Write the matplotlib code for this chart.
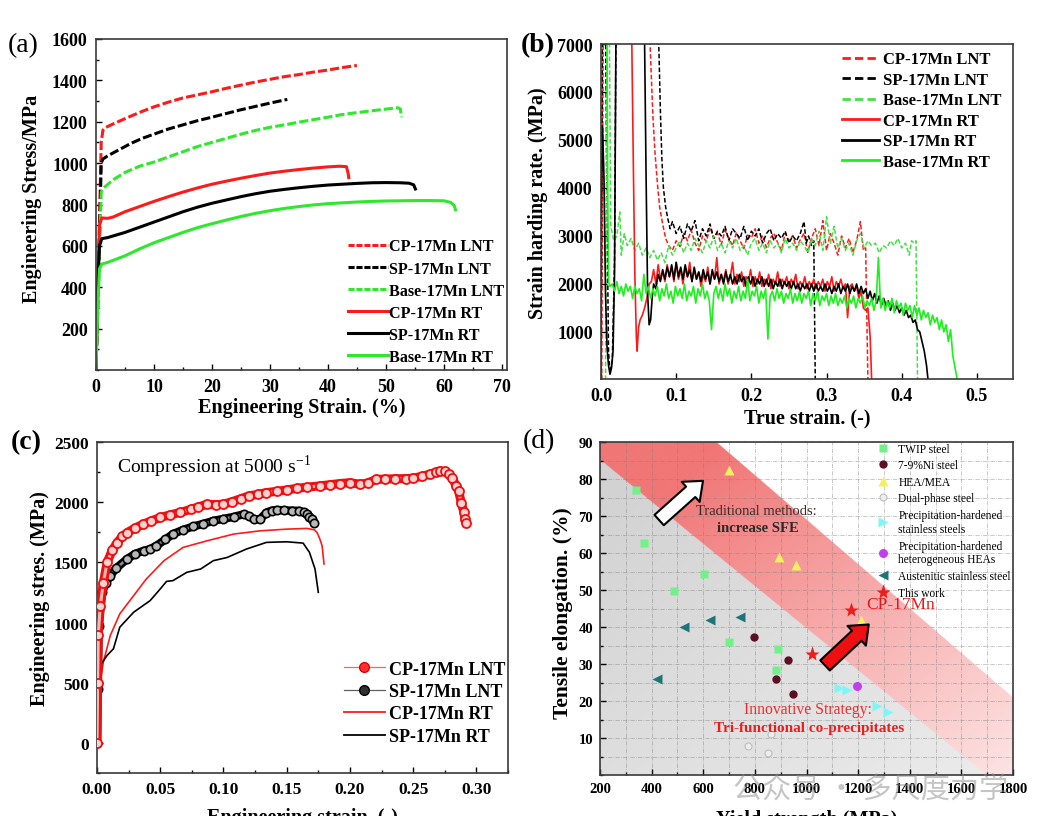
import numpy as np
import matplotlib.pyplot as plt
from matplotlib.lines import Line2D
from matplotlib.patches import FancyArrowPatch, Rectangle
from matplotlib.ticker import MultipleLocator

plt.rcParams['font.family'] = ['Liberation Serif', 'DejaVu Serif']
plt.rcParams['mathtext.fontset'] = 'custom'
plt.rcParams['mathtext.rm'] = 'Liberation Serif'

RED = '#ff1a1a'
GREEN = '#2ee82e'
BLACK = '#000000'

# ---------------- (a) engineering stress-strain (tension) ----------------
cp_lnt_a_x = [0, 0.5, 0.9, 1.2, 1.5, 3, 5, 7.5, 10, 12.5, 15, 17.5, 20, 22.5, 25, 27.5, 30, 32.5, 35, 37.5, 40, 42.5, 45]
cp_lnt_a_y = [0, 600, 1100, 1160, 1170, 1190, 1215, 1245, 1272, 1295, 1315, 1330, 1345, 1362, 1377, 1392, 1405, 1418, 1428, 1440, 1450, 1462, 1472]
sp_lnt_a_x = [0, 0.5, 0.9, 1.2, 2, 4, 6, 8, 10, 12.5, 15, 17.5, 20, 22.5, 25, 27.5, 30, 33]
sp_lnt_a_y = [0, 500, 1000, 1020, 1035, 1065, 1095, 1120, 1140, 1165, 1185, 1205, 1222, 1240, 1258, 1274, 1290, 1308]
base_lnt_a_x = [0, 0.5, 0.9, 1.3, 3, 5, 7.5, 10, 12.5, 15, 17.5, 20, 22.5, 25, 27.5, 30, 32.5, 35, 37.5, 40,
                42.5, 45, 47.5, 50, 52, 52.5, 52.7]
base_lnt_a_y = [0, 500, 860, 880, 920, 955, 985, 1005, 1030, 1055, 1080, 1100, 1120, 1140, 1158, 1173, 1185, 1198, 1210, 1222,
                1235, 1244, 1253, 1261, 1268, 1262, 1222]
cp_rt_a_x = [0, 0.3, 0.6, 1, 2, 3, 5, 7.5, 10, 12.5, 15, 17.5, 20, 22.5, 25, 27.5, 30, 32.5, 35, 37.5, 40, 42, 43.2, 43.5, 43.6]
cp_rt_a_y = [0, 400, 700, 735, 733, 740, 765, 790, 815, 838, 860, 880, 898, 913, 927, 940, 952, 961, 969, 976, 982, 985, 983, 950, 930]
sp_rt_a_x = [0, 0.3, 0.6, 1, 2, 5, 7.5, 10, 12.5, 15, 17.5, 20, 22.5, 25, 27.5, 30, 32.5, 35, 37.5, 40, 42.5, 45, 47.5, 50,
             52.5, 54, 54.8, 55.1]
sp_rt_a_y = [0, 400, 600, 635, 640, 665, 690, 715, 740, 765, 787, 806, 822, 838, 852, 864, 873, 881, 888, 894, 898, 902, 905, 906,
             905, 903, 895, 875]
base_rt_a_x = [0, 0.3, 0.6, 1, 2, 5, 7.5, 10, 12.5, 15, 17.5, 20, 22.5, 25, 27.5, 30, 32.5, 35, 37.5, 40, 42.5, 45, 47.5, 50,
               52.5, 55, 57.5, 60, 61.2, 61.8, 62]
base_rt_a_y = [0, 300, 490, 512, 520, 552, 585, 615, 640, 665, 688, 707, 725, 742, 757, 770, 781, 790, 798, 804, 808, 812, 815, 817,
               818, 819, 819, 818, 810, 795, 775]

# ---------------- (b) strain hardening rate ----------------
cp_lnt_b = [(0.001, 0), (0.003, 7500), (0.064, 7500), (0.066, 6700), (0.069, 5500), (0.072, 4700), (0.075, 4100),
            (0.078, 3600), (0.082, 3250), (0.086, 2950), (0.090, 2800), (0.095, 2700), (0.100, 2900), (0.105, 2780),
            (0.110, 3050), (0.115, 2900), (0.120, 3120), (0.125, 2850), (0.130, 2700), (0.135, 3000), (0.140, 2880),
            (0.145, 3180), (0.150, 2950), (0.155, 3060), (0.160, 2820), (0.165, 3120), (0.170, 2950), (0.175, 2800),
            (0.180, 3060), (0.185, 2900), (0.190, 2740), (0.195, 3020), (0.200, 2960), (0.205, 3150), (0.210, 2850),
            (0.215, 3010), (0.220, 2760), (0.225, 2950), (0.230, 3060), (0.235, 2860), (0.240, 2700), (0.245, 3060),
            (0.250, 2900), (0.255, 3010), (0.260, 2750), (0.265, 2920), (0.270, 3060), (0.275, 2660), (0.280, 2950),
            (0.285, 3150), (0.290, 2800), (0.295, 3320), (0.300, 2700), (0.305, 3050), (0.310, 2850), (0.315, 2600),
            (0.320, 3000), (0.325, 2750), (0.330, 2950), (0.335, 2650), (0.340, 2900), (0.345, 3300), (0.349, 2700),
            (0.352, 2750), (0.355, 0)]
sp_lnt_b = [(0.000, 200), (0.002, 7500), (0.006, 7500), (0.008, 3500), (0.010, 600), (0.012, 150), (0.015, 400),
            (0.018, 2500), (0.020, 7500), (0.075, 7500), (0.077, 6900), (0.079, 5600), (0.081, 4600), (0.083, 4000),
            (0.086, 3600), (0.089, 3350), (0.092, 3150), (0.095, 3300), (0.100, 3050), (0.105, 3200), (0.110, 2950),
            (0.115, 3250), (0.120, 3100), (0.125, 3320), (0.130, 2900), (0.135, 3150), (0.140, 3000), (0.145, 3250),
            (0.150, 2950), (0.155, 3100), (0.160, 3000), (0.165, 3200), (0.170, 2900), (0.175, 3150), (0.180, 3050),
            (0.185, 2950), (0.190, 3200), (0.195, 2900), (0.200, 3100), (0.205, 3000), (0.210, 3150), (0.215, 2850),
            (0.220, 3050), (0.225, 3150), (0.230, 2900), (0.235, 3050), (0.240, 2950), (0.245, 3100), (0.250, 2850),
            (0.255, 3000), (0.260, 2900), (0.265, 3050), (0.270, 3300), (0.273, 2850), (0.276, 3000), (0.280, 2800),
            (0.283, 2900), (0.285, 0)]
base_lnt_b = [(0.006, 0), (0.008, 7500), (0.011, 7500), (0.013, 3200), (0.017, 2900), (0.021, 3000), (0.025, 3500),
              (0.027, 2600), (0.031, 3050), (0.035, 2800), (0.040, 2950), (0.045, 2700), (0.050, 2850), (0.055, 2600),
              (0.060, 2750), (0.065, 2550), (0.070, 2700), (0.075, 2500), (0.080, 2650), (0.085, 2450), (0.090, 2800),
              (0.095, 2600), (0.100, 2750), (0.105, 2900), (0.110, 2650), (0.115, 2850), (0.120, 2700), (0.125, 2950),
              (0.130, 2800), (0.135, 2650), (0.140, 2900), (0.145, 2750), (0.150, 3000), (0.155, 2700), (0.160, 2850),
              (0.165, 2650), (0.170, 2900), (0.175, 2750), (0.180, 2950), (0.185, 2700), (0.190, 2800), (0.195, 2600),
              (0.200, 2850), (0.205, 2950), (0.210, 2700), (0.215, 2850), (0.220, 2650), (0.225, 2900), (0.230, 2750),
              (0.235, 2850), (0.240, 2650), (0.245, 2950), (0.250, 2750), (0.255, 2850), (0.260, 2700), (0.265, 2900),
              (0.270, 2800), (0.275, 2650), (0.280, 2950), (0.285, 2800), (0.290, 3100), (0.295, 2700), (0.300, 3400),
              (0.305, 2850), (0.310, 3200), (0.315, 2750), (0.320, 2950), (0.325, 2700), (0.330, 2850), (0.335, 2600),
              (0.340, 2900), (0.345, 3050), (0.350, 2750), (0.355, 2900), (0.360, 2800), (0.365, 2850), (0.370, 2650),
              (0.375, 2800), (0.380, 2750), (0.385, 2900), (0.390, 2800), (0.395, 2950), (0.400, 2750), (0.405, 2850),
              (0.410, 2600), (0.413, 2900), (0.417, 2850), (0.419, 2900), (0.421, 0)]
cp_rt_b = [(0.038, 7500), (0.041, 7000), (0.043, 4500), (0.045, 2200), (0.047, 900), (0.048, 600), (0.050, 1100),
           (0.052, 1250), (0.055, 1350), (0.058, 1500), (0.061, 1700), (0.064, 2000), (0.067, 2050), (0.070, 2300),
           (0.073, 2000), (0.076, 2400), (0.079, 2100), (0.082, 2250), (0.085, 2050), (0.088, 2400), (0.091, 2150),
           (0.094, 2350), (0.097, 2050), (0.100, 2450), (0.103, 2100), (0.106, 2300), (0.109, 2000), (0.112, 2350),
           (0.115, 2150), (0.118, 2450), (0.121, 2050), (0.124, 2300), (0.127, 2100), (0.130, 2250), (0.133, 1950),
           (0.136, 2200), (0.139, 2050), (0.142, 2350), (0.145, 2000), (0.148, 2250), (0.151, 2100), (0.154, 2550),
           (0.157, 2000), (0.160, 2200), (0.163, 2050), (0.166, 2300), (0.169, 2000), (0.172, 2150), (0.175, 2450),
           (0.178, 2000), (0.181, 2200), (0.184, 2050), (0.187, 2250), (0.190, 1950), (0.193, 2150), (0.196, 2050),
           (0.199, 2300), (0.202, 1950), (0.205, 2150), (0.208, 2000), (0.211, 2250), (0.214, 1950), (0.217, 2100),
           (0.220, 2000), (0.223, 2200), (0.226, 1900), (0.229, 2100), (0.232, 2000), (0.235, 2250), (0.238, 1950),
           (0.241, 2100), (0.244, 2000), (0.247, 2150), (0.250, 1900), (0.253, 2100), (0.256, 2000), (0.259, 2200),
           (0.262, 1900), (0.265, 2050), (0.268, 1950), (0.271, 2150), (0.274, 1900), (0.277, 2050), (0.280, 1950),
           (0.283, 2100), (0.286, 1900), (0.289, 2050), (0.292, 1950), (0.295, 2100), (0.298, 1850), (0.301, 2050),
           (0.304, 1950), (0.307, 2150), (0.310, 1850), (0.313, 2050), (0.316, 1950), (0.319, 2100), (0.322, 1900),
           (0.325, 2000), (0.328, 1300), (0.331, 1950), (0.334, 2000), (0.337, 1850), (0.340, 1950), (0.343, 1700),
           (0.346, 1850), (0.349, 1500), (0.352, 1450), (0.355, 1500), (0.358, 900), (0.360, 0)]
sp_rt_b = [(0.000, 3500), (0.002, 5300), (0.004, 4200), (0.006, 1800), (0.008, 700), (0.010, 300), (0.012, 120),
           (0.014, 250), (0.016, 600), (0.018, 2200), (0.020, 7500), (0.056, 7500), (0.058, 7000), (0.060, 4200),
           (0.062, 1800), (0.064, 1150), (0.066, 1250), (0.068, 1700), (0.070, 2000), (0.073, 1900), (0.076, 2200),
           (0.079, 2050), (0.082, 2300), (0.085, 2100), (0.088, 2350), (0.091, 2150), (0.094, 2400), (0.097, 2100),
           (0.100, 2450), (0.103, 2150), (0.106, 2350), (0.109, 2100), (0.112, 2400), (0.115, 2150), (0.118, 2300),
           (0.121, 2050), (0.124, 2350), (0.127, 2100), (0.130, 2250), (0.133, 2050), (0.136, 2300), (0.139, 2100),
           (0.142, 2250), (0.145, 2000), (0.148, 2300), (0.151, 2100), (0.154, 2250), (0.157, 2050), (0.160, 2200),
           (0.163, 2000), (0.166, 2250), (0.169, 2050), (0.172, 2200), (0.175, 2000), (0.178, 2150), (0.181, 2000),
           (0.184, 2200), (0.187, 2050), (0.190, 2150), (0.193, 1950), (0.196, 2150), (0.199, 2000), (0.202, 2150),
           (0.205, 1950), (0.208, 2100), (0.211, 2000), (0.214, 2150), (0.217, 1950), (0.220, 2100), (0.223, 1950),
           (0.226, 2100), (0.229, 1900), (0.232, 2050), (0.235, 1950), (0.238, 2100), (0.241, 1900), (0.244, 2050),
           (0.247, 1950), (0.250, 2050), (0.253, 1900), (0.256, 2050), (0.259, 1900), (0.262, 2000), (0.265, 1850),
           (0.268, 2000), (0.271, 1900), (0.274, 2000), (0.277, 1850), (0.280, 2000), (0.283, 1850), (0.286, 2000),
           (0.289, 1850), (0.292, 1950), (0.295, 1850), (0.298, 2000), (0.301, 1850), (0.304, 1950), (0.307, 1800),
           (0.310, 1950), (0.313, 1850), (0.316, 2000), (0.319, 1800), (0.322, 1950), (0.325, 1850), (0.328, 2000),
           (0.331, 1800), (0.334, 1950), (0.337, 1850), (0.340, 2000), (0.343, 1800), (0.346, 1950), (0.349, 1800),
           (0.352, 1900), (0.355, 1700), (0.358, 1850), (0.361, 1650), (0.364, 1800), (0.367, 1600), (0.370, 1750),
           (0.373, 1550), (0.376, 1700), (0.379, 1550), (0.382, 1650), (0.385, 1450), (0.388, 1600), (0.391, 1450),
           (0.394, 1550), (0.397, 1400), (0.400, 1500), (0.403, 1350), (0.406, 1450), (0.409, 1300), (0.412, 1350),
           (0.415, 1200), (0.418, 1250), (0.421, 1050), (0.424, 1000), (0.427, 800), (0.430, 600), (0.433, 300),
           (0.435, 0)]
base_rt_b = [(0.006, 7500), (0.008, 7000), (0.009, 3800), (0.010, 2050), (0.012, 1950), (0.015, 2000), (0.018, 1850),
             (0.021, 2050), (0.024, 1800), (0.027, 1950), (0.030, 1750), (0.033, 2000), (0.036, 1850), (0.039, 1950),
             (0.042, 1700), (0.045, 1950), (0.048, 1800), (0.051, 1900), (0.054, 1650), (0.057, 2200), (0.060, 1800),
             (0.063, 1950), (0.066, 1700), (0.069, 1900), (0.072, 1750), (0.075, 1950), (0.078, 1650), (0.081, 1900),
             (0.084, 1750), (0.087, 2000), (0.090, 1700), (0.093, 1850), (0.096, 1600), (0.099, 1950), (0.102, 1750),
             (0.105, 1900), (0.108, 1700), (0.111, 2000), (0.114, 1650), (0.117, 1850), (0.120, 1750), (0.123, 1950),
             (0.126, 1600), (0.129, 1900), (0.132, 1750), (0.135, 2000), (0.138, 1700), (0.141, 1850), (0.144, 1650),
             (0.147, 1050), (0.150, 1800), (0.153, 1950), (0.156, 1700), (0.159, 1900), (0.162, 1650), (0.165, 2000),
             (0.168, 1750), (0.171, 1900), (0.174, 1600), (0.177, 1850), (0.180, 1700), (0.183, 1950), (0.186, 1650),
             (0.189, 1850), (0.192, 1700), (0.195, 2100), (0.198, 1650), (0.201, 1850), (0.204, 1750), (0.207, 1950),
             (0.210, 1600), (0.213, 1850), (0.216, 1700), (0.219, 1900), (0.222, 850), (0.225, 1750), (0.228, 1850),
             (0.231, 1650), (0.234, 1900), (0.237, 1700), (0.240, 1850), (0.243, 1600), (0.246, 1800), (0.249, 1700),
             (0.252, 1900), (0.255, 1600), (0.258, 1800), (0.261, 1650), (0.264, 1850), (0.267, 1600), (0.270, 1800),
             (0.273, 1700), (0.276, 1850), (0.279, 1550), (0.282, 1800), (0.285, 1650), (0.288, 1850), (0.291, 1550),
             (0.294, 1750), (0.297, 1650), (0.300, 1800), (0.303, 1550), (0.306, 1750), (0.309, 1600), (0.312, 1800),
             (0.315, 1550), (0.318, 1700), (0.321, 1600), (0.324, 1750), (0.327, 1500), (0.330, 1700), (0.333, 1600),
             (0.336, 1750), (0.339, 1500), (0.342, 1700), (0.345, 1600), (0.348, 1750), (0.351, 1500), (0.354, 1650),
             (0.357, 1550), (0.360, 1700), (0.363, 1450), (0.366, 1650), (0.369, 2550), (0.372, 1500), (0.375, 1700),
             (0.378, 1450), (0.381, 1650), (0.384, 1500), (0.387, 1700), (0.390, 1400), (0.393, 1650), (0.396, 1500),
             (0.399, 1600), (0.402, 1350), (0.405, 1600), (0.408, 1450), (0.411, 1550), (0.414, 1300), (0.417, 1550),
             (0.420, 1350), (0.423, 1500), (0.426, 1250), (0.429, 1450), (0.432, 1300), (0.435, 1400), (0.438, 1150),
             (0.441, 1350), (0.444, 1200), (0.447, 1300), (0.450, 1050), (0.453, 1250), (0.456, 1000), (0.459, 1150),
             (0.462, 800), (0.465, 1050), (0.468, 500), (0.471, 250), (0.474, 0)]

# ---------------- (c) dynamic compression ----------------
cp_lnt_c_x = [0.0, 0.0005, 0.001, 0.0026, 0.005, 0.008, 0.012, 0.016, 0.020, 0.024, 0.030, 0.036, 0.043, 0.050, 0.058,
              0.066, 0.074, 0.080, 0.087, 0.094, 0.100, 0.107, 0.114, 0.120, 0.127, 0.134, 0.142, 0.150, 0.158, 0.166,
              0.176, 0.184, 0.192, 0.200, 0.208, 0.214, 0.221, 0.228, 0.236, 0.244, 0.250, 0.257, 0.263, 0.268, 0.271,
              0.275, 0.278, 0.281, 0.284, 0.286, 0.288, 0.290, 0.291, 0.2916]
cp_lnt_c_y = [0, 500, 900, 1141, 1330, 1500, 1600, 1665, 1715, 1748, 1785, 1815, 1845, 1873, 1895, 1915, 1940, 1960, 1983,
              1980, 1983, 2005, 2030, 2052, 2065, 2080, 2090, 2102, 2115, 2125, 2135, 2145, 2155, 2162, 2149, 2160, 2190,
              2192, 2195, 2196, 2200, 2215, 2232, 2250, 2260, 2255, 2232, 2200, 2135, 2090, 1997, 1920, 1859, 1831]
sp_lnt_c_x = [0.0, 0.0005, 0.0013, 0.004, 0.007, 0.0105, 0.015, 0.0237, 0.030, 0.037, 0.042, 0.047, 0.054, 0.060, 0.068,
              0.076, 0.084, 0.092, 0.100, 0.108, 0.116, 0.120, 0.124, 0.129, 0.134, 0.138, 0.142, 0.148, 0.154, 0.160,
              0.164, 0.166, 0.168, 0.170, 0.1716]
sp_lnt_c_y = [0, 450, 975, 1251, 1330, 1389, 1450, 1527, 1570, 1597, 1610, 1638, 1690, 1735, 1770, 1798, 1820, 1845, 1862,
              1878, 1900, 1885, 1859, 1859, 1914, 1930, 1936, 1932, 1930, 1928, 1915, 1900, 1880, 1859, 1831]
cp_rt_c_x = [0.0, 0.0015, 0.0026, 0.005, 0.0105, 0.018, 0.029, 0.039, 0.053, 0.068, 0.087, 0.108, 0.129, 0.150, 0.166,
             0.172, 0.174, 0.176, 0.178, 0.1795]
cp_rt_c_y = [0, 300, 505, 671, 892, 1072, 1224, 1362, 1514, 1624, 1679, 1735, 1762, 1776, 1782, 1770, 1748, 1700, 1638, 1486]
sp_rt_c_x = [0.0, 0.0015, 0.0026, 0.008, 0.013, 0.018, 0.029, 0.042, 0.050, 0.055, 0.060, 0.071, 0.082, 0.092, 0.103,
             0.118, 0.134, 0.150, 0.163, 0.168, 0.1724, 0.175]
sp_rt_c_y = [0, 400, 644, 727, 782, 961, 1086, 1182, 1279, 1342, 1348, 1417, 1445, 1514, 1541, 1610, 1666, 1671, 1660, 1583,
             1445, 1251]

# ---------------- (d) yield strength vs elongation ----------------
twip_x = [339, 370, 486, 604, 701, 888, 881]
twip_y = [77, 62.6, 49.8, 54.3, 36, 34, 28.4]
ni_x = [796, 930, 881, 946]
ni_y = [37.2, 31, 25.9, 22]
hea_x = [701, 894, 959, 1213]
hea_y = [82.4, 58.8, 56.7, 42]
dp_x = [772, 852, 862]
dp_y = [7.9, 5.9, 11]
phs_x = [1126, 1155, 1274, 1316]
phs_y = [23.4, 23, 18.7, 17]
phh_x = [1196]
phh_y = [24]
aus_x = [419, 525, 626, 742]
aus_y = [26, 39.9, 42, 42.8]
work_x = [1174, 1023]
work_y = [44.6, 32.6]
band_upper = [(652, 90), (1800, 21)]
band_lower = [(200, 85.3), (1697, 0)]

fig = plt.figure(figsize=(10.44, 8.37), dpi=100)
W, H = 1044, 837


def px_axes(l, t, r, b):
    return fig.add_axes([l / W, 1 - b / H, (r - l) / W, (b - t) / H])


def style(ax, size):
    ax.tick_params(which='both', direction='in', labelsize=size, width=1, pad=6)
    ax.tick_params(which='major', length=4)
    ax.tick_params(which='minor', length=2.5)
    for lab in ax.get_xticklabels() + ax.get_yticklabels():
        lab.set_fontweight('bold')
    for s in ax.spines.values():
        s.set_color('#3a3a3a')
        s.set_linewidth(1.2)


# ----- (a)
axa = px_axes(96, 40, 507, 371)
dash = (0, (3, 1))
axa.plot(cp_lnt_a_x, cp_lnt_a_y, color=RED, lw=2.2, ls=dash, label='CP-17Mn LNT')
axa.plot(sp_lnt_a_x, sp_lnt_a_y, color=BLACK, lw=2.2, ls=dash, label='SP-17Mn LNT')
axa.plot(base_lnt_a_x, base_lnt_a_y, color=GREEN, lw=2.2, ls=dash, label='Base-17Mn LNT')
axa.plot(cp_rt_a_x, cp_rt_a_y, color=RED, lw=2.2, label='CP-17Mn RT')
axa.plot(sp_rt_a_x, sp_rt_a_y, color=BLACK, lw=2.2, label='SP-17Mn RT')
axa.plot(base_rt_a_x, base_rt_a_y, color=GREEN, lw=2.2, label='Base-17Mn RT')
axa.set_xlim(0, 70.9)
axa.set_ylim(0, 1600)
axa.set_xticks(np.arange(0, 71, 10))
axa.set_yticks(np.arange(200, 1601, 200))
axa.xaxis.set_minor_locator(MultipleLocator(5))
axa.yaxis.set_minor_locator(MultipleLocator(100))
style(axa, 13)
axa.set_xlabel('Engineering Strain. (%)', fontsize=14.5, fontweight='bold', labelpad=1)
axa.set_ylabel('Engineering Stress/MPa', fontsize=14.5, fontweight='bold')
axa.yaxis.set_label_coords(-0.131, 0.52)
la = axa.legend(loc='lower left', bbox_to_anchor=(0.612, 0.015), frameon=False, prop={'weight': 'bold', 'size': 11.6},
                handlelength=2.5, handletextpad=0.1, labelspacing=0.38, borderpad=0, borderaxespad=0)
for h in la.get_lines():
    h.set_linestyle('-' if 'RT' in h.get_label() else (0, (2, 0.6)))

# ----- (b)
axb = px_axes(601, 45, 1013, 380)
for data, col, ls, lab, lw in [(cp_lnt_b, RED, (0, (3, 1.5)), 'CP-17Mn LNT', 1.1),
                               (sp_lnt_b, BLACK, (0, (3, 1.5)), 'SP-17Mn LNT', 1.1),
                               (base_lnt_b, '#45e045', (0, (3, 1.5)), 'Base-17Mn LNT', 1.1),
                               (cp_rt_b, RED, '-', 'CP-17Mn RT', 1.2),
                               (sp_rt_b, BLACK, '-', 'SP-17Mn RT', 1.2),
                               (base_rt_b, '#1ef01e', '-', 'Base-17Mn RT', 1.2)]:
    arr = np.array(data)
    axb.plot(arr[:, 0], arr[:, 1], color=col, ls=ls, lw=lw, label=lab)
axb.set_xlim(0, 0.548)
axb.set_ylim(20, 7000)
axb.set_xticks(np.arange(0, 0.51, 0.1))
axb.set_xticklabels(['0.0', '0.1', '0.2', '0.3', '0.4', '0.5'])
axb.set_yticks(np.arange(1000, 7001, 1000))
style(axb, 13)
axb.set_xlabel('True strain. (-)', fontsize=14.5, fontweight='bold', labelpad=2)
axb.set_ylabel('Strain harding rate. (MPa)', fontsize=14.5, fontweight='bold')
axb.yaxis.set_label_coords(-0.129, 0.528)
lb = axb.legend(loc='upper left', bbox_to_anchor=(0.585, 0.978), frameon=False, prop={'weight': 'bold', 'size': 12},
                handlelength=2.2, handletextpad=0.25, labelspacing=0.27, borderpad=0, borderaxespad=0)
for h in lb.get_lines():
    h.set_linewidth(2)

# ----- (c)
axc = px_axes(97, 443, 508, 774)
axc.plot(cp_rt_c_x, cp_rt_c_y, color=RED, lw=1.2, zorder=2)
axc.plot(sp_rt_c_x, sp_rt_c_y, color=BLACK, lw=1.2, zorder=2)
axc.plot(sp_lnt_c_x, sp_lnt_c_y, color=BLACK, lw=6, solid_capstyle='round', zorder=3)
axc.plot(sp_lnt_c_x, sp_lnt_c_y, color='#8a8a8a', lw=2, zorder=3)
axc.plot(sp_lnt_c_x, sp_lnt_c_y, ls='none', marker='o', ms=6, mfc='#b8b8b8', mec=BLACK, mew=1.2, zorder=3)
axc.plot(cp_lnt_c_x, cp_lnt_c_y, color='#ee1010', lw=6.5, solid_capstyle='round', zorder=4)
axc.plot(cp_lnt_c_x, cp_lnt_c_y, color='#ffb4b4', lw=2.2, zorder=4)
axc.plot(cp_lnt_c_x, cp_lnt_c_y, ls='none', marker='o', ms=6.5, mfc='#ffd0d0', mec='#ee1010', mew=1.3, zorder=4)
axc.set_xlim(0, 0.325)
axc.set_ylim(-250, 2500)
axc.set_xticks(np.arange(0, 0.31, 0.05))
axc.set_xticklabels(['0.00', '0.05', '0.10', '0.15', '0.20', '0.25', '0.30'])
axc.set_yticks(np.arange(0, 2501, 500))
axc.xaxis.set_minor_locator(MultipleLocator(0.025))
axc.yaxis.set_minor_locator(MultipleLocator(250))
style(axc, 12.5)
axc.set_xlabel('Engineering strain. (-)', fontsize=14.5, fontweight='bold')
axc.xaxis.set_label_coords(0.5, -0.103)
axc.set_ylabel('Engineering stres. (MPa)', fontsize=14.5, fontweight='bold')
axc.yaxis.set_label_coords(-0.114, 0.53)
axc.text(0.016, 2300, 'Compression at 5000 s$^{\\mathregular{-1}}$', fontsize=14, va='center')
hc = [Line2D([], [], color='#ff6060', lw=0.9, marker='o', ms=7, mfc='#ff3030', mec='#e00000'),
      Line2D([], [], color='#606060', lw=0.9, marker='o', ms=7, mfc='#303030', mec=BLACK),
      Line2D([], [], color=RED, lw=1.3),
      Line2D([], [], color=BLACK, lw=1.3)]
axc.legend(hc, ['CP-17Mn LNT', 'SP-17Mn LNT', 'CP-17Mn RT', 'SP-17Mn RT'], loc='lower left',
           bbox_to_anchor=(0.6, 0.085), frameon=False, prop={'weight': 'bold', 'size': 13},
           handlelength=2.3, handletextpad=0.2, labelspacing=0.3, borderpad=0, borderaxespad=0)

# ----- (d)
axd = px_axes(600, 443, 1013, 776)
xmin, xmax, ymin, ymax = 200, 1800, 0, 90
gx = np.linspace(xmin, xmax, 1400)
gy = np.linspace(ymin, ymax, 800)
X, Y = np.meshgrid(gx, gy)
(ux0, uy0), (ux1, uy1) = band_upper
(lx0, ly0), (lx1, ly1) = band_lower
up = uy0 + (X - ux0) * (uy1 - uy0) / (ux1 - ux0)
lo = ly0 + (X - lx0) * (ly1 - ly0) / (lx1 - lx0)
t = np.clip(((X - xmin) / (xmax - xmin) - (Y - ymin) / (ymax - ymin) + 1) / 2, 0, 1)
img = np.ones((len(gy), len(gx), 4))
band_c0, band_c1 = np.array([241, 118, 118]) / 255, np.array([253, 228, 228]) / 255
gray_c0, gray_c1 = np.array([208, 208, 208]) / 255, np.array([236, 236, 236]) / 255
tb = np.clip((t - 0.15) / 0.85, 0, 1)[..., None]
band_rgb = band_c0 + (band_c1 - band_c0) * tb
gray_rgb = gray_c0 + (gray_c1 - gray_c0) * t[..., None]
img[..., :3] = np.where((Y <= lo)[..., None], gray_rgb, band_rgb)
img[..., 3] = np.where(Y > up, 0, 1)
axd.imshow(img, extent=(xmin, xmax, ymin, ymax), origin='lower', aspect='auto', zorder=0, interpolation='bilinear')
axd.set_xlim(xmin, xmax)
axd.set_ylim(ymin, ymax)
axd.set_xticks(np.arange(200, 1801, 200))
axd.set_yticks(np.arange(10, 91, 10))
axd.xaxis.set_minor_locator(MultipleLocator(100))
axd.yaxis.set_minor_locator(MultipleLocator(5))
axd.grid(which='both', color='#808080', lw=0.6, alpha=0.5, ls=(0, (5, 1.5, 1, 1.5)))
style(axd, 10.5)
axd.tick_params(pad=5)
axd.set_xlabel('Yield strength (MPa)', fontsize=14.5, fontweight='bold')
axd.xaxis.set_label_coords(0.5, -0.102)
axd.set_ylabel('Tensile elongation. (%)', fontsize=15.5, fontweight='bold')
axd.yaxis.set_label_coords(-0.065, 0.49)

axd.plot(twip_x, twip_y, ls='none', marker='s', ms=5.5, color='#72f08a', mec='none', label='TWIP steel', zorder=3)
axd.plot(ni_x, ni_y, ls='none', marker='o', ms=6, color='#5c0f25', mec='none', label='7-9%Ni steel', zorder=3)
axd.plot(hea_x, hea_y, ls='none', marker='^', ms=6.5, color='#f2f060', mec='none', label='HEA/MEA', zorder=3)
axd.plot(dp_x, dp_y, ls='none', marker='o', ms=5, color='#eeeeee', mec='#bdbdbd', mew=0.8, label='Dual-phase steel',
         zorder=3)
axd.plot(phs_x, phs_y, ls='none', marker='>', ms=6.5, color='#7ff6f6', mec='none',
         label='Precipitation-hardened\nstainless steels', zorder=3)
axd.plot(phh_x, phh_y, ls='none', marker='o', ms=6.5, color='#c040f0', mec='none',
         label='Precipitation-hardened\nheterogeneous HEAs', zorder=3)
axd.plot(aus_x, aus_y, ls='none', marker='<', ms=6.5, color='#1d7578', mec='none', label='Austenitic stainless steel',
         zorder=3)
axd.plot(work_x, work_y, ls='none', marker='*', ms=11, color='#ee1c1c', mec='none', label='This work', zorder=3)
axd.legend(loc='upper left', bbox_to_anchor=(0.672, 0.998), frameon=False, fontsize=8.3, handlelength=1,
           handletextpad=0.8, labelspacing=0.4, borderpad=0, borderaxespad=0)

arrow_style = 'simple,head_length=0.95,head_width=1.55,tail_width=0.8'
axd.add_patch(FancyArrowPatch((421, 68.4), (607, 80), arrowstyle=arrow_style,
                              mutation_scale=12.5, fc='white', ec='black', lw=1.5, zorder=4))
axd.add_patch(FancyArrowPatch((1064, 29.1), (1249, 41.2), arrowstyle=arrow_style,
                              mutation_scale=12.5, fc='#ee1010', ec='black', lw=1.5, zorder=4))
axd.text(805, 71.6, 'Traditional methods:', fontsize=10.5, color='#3a2a2a', ha='center', va='center', zorder=5)
axd.text(810, 66.9, 'increase SFE', fontsize=10.5, fontweight='bold', color='#2a2a2a', ha='center', va='center', zorder=5)
axd.text(1232, 46.2, 'CP-17Mn', fontsize=12.5, color='#e81515', ha='left', va='center', zorder=5)
axd.text(1006, 17.8, 'Innovative Strategy:', fontsize=11.3, color='#e83030', ha='center', va='center', zorder=5)
axd.text(1010, 12.9, 'Tri-functional co-precipitates', fontsize=11, fontweight='bold', color='#ee1c1c', ha='center',
         va='center', zorder=5)

# panel letters
fig.text(8 / W, 1 - 46 / H, '(a)', fontsize=20, va='center')
fig.text(521 / W, 1 - 46 / H, '(b)', fontsize=20, va='center', fontweight='bold')
fig.text(11 / W, 1 - 443 / H, '(c)', fontsize=20, va='center', fontweight='bold')
fig.text(523 / W, 1 - 442 / H, '(d)', fontsize=20, va='center')

# watermark and cropped bottom edge
fig.text(733 / W, 1 - 790 / H, '公众号 · 多尺度力学', fontsize=21, color='#8c8c8c', alpha=0.5, va='center',
         family=['Noto Sans CJK SC', 'DejaVu Sans'])
fig.add_artist(Rectangle((0, 0), 1, 20 / H, transform=fig.transFigure, fc='white', ec='none', zorder=20))

fig.savefig('out.png', dpi=100)
